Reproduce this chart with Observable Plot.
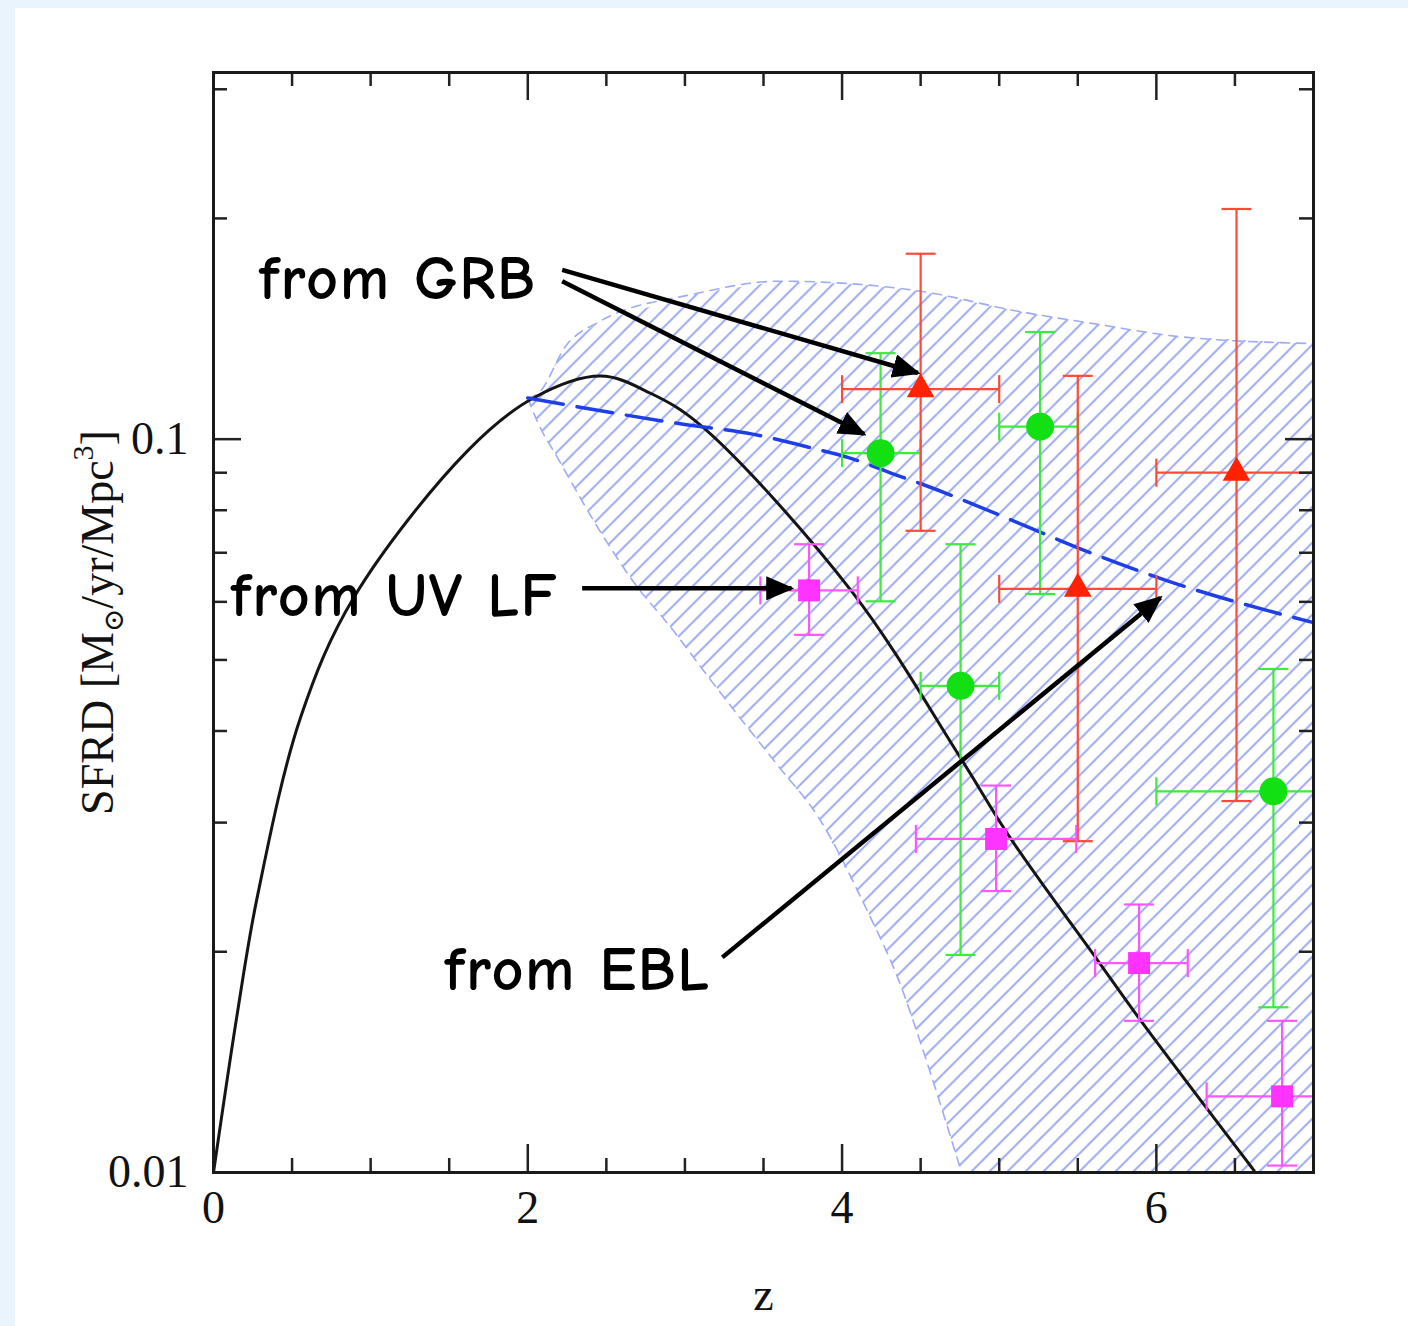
<!DOCTYPE html>
<html><head><meta charset="utf-8">
<script src="https://cdn.jsdelivr.net/npm/d3@7"></script>
<script src="https://cdn.jsdelivr.net/npm/@observablehq/plot@0.6"></script>
<style>
html,body{margin:0;padding:0;}
body{background:#e9f4fd;width:1408px;height:1326px;position:relative;overflow:hidden;}
#panel{position:absolute;left:15px;top:8px;width:1393px;height:1318px;background:#fff;}
#chart{position:absolute;left:0;top:0;}
</style></head><body>
<div id="panel"></div><div id="chart"></div>
<script>
// ---------- data ----------
// model SFRD (solid black curve)
const modelZ    = [0.0, 0.151, 0.278, 0.554, 0.891, 1.615, 2.036, 2.463, 2.781, 3.099, 4.059, 4.754, 5.069, 5.624, 5.902, 6.622];
const modelSfrd = [0.0100, 0.01645, 0.02372, 0.04173, 0.06073, 0.09632, 0.1138, 0.1219, 0.1155, 0.1045, 0.0621, 0.03675, 0.02862, 0.0195, 0.0161, 0.01006];
// from EBL (blue dashed)
const eblZ    = [2.0, 2.99, 3.43, 3.805, 4.046, 4.36, 4.51, 5.12, 5.50, 6.08, 7.0];
const eblSfrd = [0.1138, 0.1048, 0.1016, 0.0973, 0.0943, 0.0891, 0.0868, 0.0769, 0.0711, 0.0640, 0.0562];
// EBL band (hatched)
const bandUpperZ    = [2.0, 2.06, 2.25, 2.46, 3.05, 3.60, 4.11, 4.51, 5.12, 5.63, 6.13, 7.0];
const bandUpperSfrd = [0.1138, 0.1151, 0.1347, 0.1448, 0.1576, 0.1642, 0.1626, 0.1590, 0.1494, 0.1434, 0.1381, 0.1350];
const bandLowerZ    = [2.0, 2.06, 2.19, 2.46, 2.67, 2.93, 3.12, 3.35, 3.60, 3.85, 4.16, 4.36, 4.51, 4.61, 4.76];
const bandLowerSfrd = [0.1138, 0.1058, 0.0943, 0.0749, 0.0640, 0.0547, 0.0483, 0.0417, 0.0357, 0.0305, 0.02275, 0.0183, 0.0148, 0.0127, 0.0100];
const sfrdFloor = 0.01, zMax = 7.0;
// GRB (red triangles)
const grbZ = [4.50, 5.50, 6.51], grbZLo = [4.0, 5.0, 6.0], grbZHi = [5.0, 6.0, 7.0];
const grbSfrd = [0.117, 0.0625, 0.090], grbLo = [0.075, 0.0283, 0.0321], grbHi = [0.179, 0.122, 0.206];
// GRB (green circles)
const grb2Z = [4.245, 5.26, 4.754, 6.745], grb2ZLo = [4.0, 5.0, 4.5, 6.0], grb2ZHi = [4.5, 5.5, 5.0, 7.0];
const grb2Sfrd = [0.0957, 0.104, 0.0461, 0.0331], grb2Lo = [0.0601, 0.0615, 0.0198, 0.0168], grb2Hi = [0.131, 0.140, 0.0719, 0.0486];
// UV LF (magenta squares)
const uvZ = [3.79, 4.98, 5.89, 6.80], uvZLo = [3.48, 4.47, 5.61, 6.32], uvZHi = [4.10, 5.49, 6.20, 7.0];
const uvSfrd = [0.0622, 0.0285, 0.0193, 0.0127], uvLo = [0.0541, 0.0242, 0.0161, 0.01022], uvHi = [0.0719, 0.0337, 0.0232, 0.0161];
// annotations
const annText = ["from GRB", "from UV LF", "from EBL"];
const annZ    = [0.29, 0.11, 1.47];
const annSfrd = [0.1654, 0.0610, 0.01888];
const arrowZ1 = [2.219, 2.219, 2.346, 3.238], arrowS1 = [0.1702, 0.1642, 0.0626, 0.01965];
const arrowZ2 = [4.483, 4.140, 3.678, 6.026], arrowS2 = [0.1231, 0.1016, 0.0626, 0.0608];
// ticks
const xTickLabels = [0, 2, 4, 6];
const xMajorTicks = [2, 4, 6];
const xMinorTicks = [0.5, 1, 1.5, 2.5, 3, 3.5, 4.5, 5, 5.5, 6.5];
const yTickValues = [0.01, 0.1];
const yTickLabels = ["0.01", "0.1"];
const yMajorTicks = [0.1];
const yMinorTicks = [0.02, 0.03, 0.04, 0.05, 0.06, 0.07, 0.08, 0.09, 0.2, 0.3];
const xLabel = "z";
const yLabel = "SFRD [M⊙/yr/Mpc³]";

// ---------- build tables ----------
const pts = (zs, vs) => zs.map((z, i) => ({z, v: vs[i]}));
const model = pts(modelZ, modelSfrd);
const ebl = pts(eblZ, eblSfrd);
const upper = pts(bandUpperZ, bandUpperSfrd);
const lower = pts(bandLowerZ, bandLowerSfrd);
const bandPoly = [...upper, {z: zMax, v: sfrdFloor}, ...lower.slice().reverse()];
const mkSeries = (z, zl, zh, v, lo, hi) => z.map((d, i) => ({z: d, zl: zl[i], zh: zh[i], v: v[i], lo: lo[i], hi: hi[i]}));
const seriesDefs = [
  {rows: mkSeries(grb2Z, grb2ZLo, grb2ZHi, grb2Sfrd, grb2Lo, grb2Hi), bar: "#3bec3b", fill: "#12e012", symbol: "circle", r: 14},
  {rows: mkSeries(grbZ, grbZLo, grbZHi, grbSfrd, grbLo, grbHi), bar: "#ff4a38", fill: "#ff2200", symbol: "triangle", r: 10.3},
  {rows: mkSeries(uvZ, uvZLo, uvZHi, uvSfrd, uvLo, uvHi), bar: "#ff55ff", fill: "#ff33ff", symbol: "square", r: 12.4}
];
const arrows = arrowZ1.map((z, i) => ({z1: z, s1: arrowS1[i], z2: arrowZ2[i], s2: arrowS2[i]}));
const ann = annText.map((t, i) => ({t, z: annZ[i], v: annSfrd[i]}));

const hcap = {draw(ctx, size) { const r = Math.sqrt(size / Math.PI); ctx.moveTo(-r, 0); ctx.lineTo(r, 0); }};
const vcap = {draw(ctx, size) { const r = Math.sqrt(size / Math.PI); ctx.moveTo(0, -r); ctx.lineTo(0, r); }};

const W = 1408, H = 1326, mL = 213, mR = 95, mT = 72, mB = 154;
const fW = W - mL - mR, fH = H - mT - mB;
const MAJ = 28, MIN = 14;

const defsMark = () => {
  const ns = "http://www.w3.org/2000/svg";
  const defs = document.createElementNS(ns, "defs");
  defs.innerHTML = `<pattern id="hatch" patternUnits="userSpaceOnUse" width="18" height="18">
      <path d="M-5,5 L5,-5 M0,18 L18,0 M13,23 L23,13" stroke="#7b8cf2" stroke-width="1.5" fill="none"/></pattern>
    <marker id="ahead" viewBox="0 0 10 10" refX="9" refY="5" markerUnits="userSpaceOnUse" markerWidth="28" markerHeight="24" preserveAspectRatio="none" orient="auto">
      <path d="M0,0L10,5L0,10z" fill="#000"/></marker>`;
  return defs;
};

const marks = [defsMark];
marks.push(Plot.line(bandPoly, {x: "z", y: "v", fill: "url(#hatch)", stroke: "none", curve: "linear", clip: true}));
marks.push(Plot.line(upper, {x: "z", y: "v", stroke: "#9fabf6", strokeWidth: 1.6, strokeDasharray: "9,7", curve: "monotone-x", clip: true}));
marks.push(Plot.line(lower, {x: "z", y: "v", stroke: "#9fabf6", strokeWidth: 1.6, strokeDasharray: "9,7", curve: "monotone-x", clip: true}));
marks.push(Plot.line(model, {x: "z", y: "v", stroke: "#151515", strokeWidth: 3, curve: "catmull-rom", clip: true}));
marks.push(Plot.line(ebl, {x: "z", y: "v", stroke: "#1f3fe6", strokeWidth: 3.5, strokeDasharray: "36,14", curve: "monotone-x", clip: true}));
for (const s of seriesDefs) {
  marks.push(Plot.link(s.rows, {x1: "z", x2: "z", y1: "lo", y2: "hi", stroke: s.bar, strokeWidth: 2.2, clip: true}));
  marks.push(Plot.link(s.rows, {x1: "zl", x2: "zh", y1: "v", y2: "v", stroke: s.bar, strokeWidth: 2.2, clip: true}));
  marks.push(Plot.dot(s.rows, {x: "z", y: "lo", symbol: hcap, r: 15, stroke: s.bar, fill: "none", strokeWidth: 2.2, clip: true}));
  marks.push(Plot.dot(s.rows, {x: "z", y: "hi", symbol: hcap, r: 15, stroke: s.bar, fill: "none", strokeWidth: 2.2, clip: true}));
  marks.push(Plot.dot(s.rows, {x: "zl", y: "v", symbol: vcap, r: 14, stroke: s.bar, fill: "none", strokeWidth: 2.2, clip: true}));
  marks.push(Plot.dot(s.rows, {x: "zh", y: "v", symbol: vcap, r: 14, stroke: s.bar, fill: "none", strokeWidth: 2.2, clip: true}));
}
for (const s of seriesDefs) {
  marks.push(Plot.dot(s.rows, {x: "z", y: "v", symbol: s.symbol, r: s.r, fill: s.fill, stroke: "none"}));
}
marks.push(Plot.link(arrows, {x1: "z1", y1: "s1", x2: "z2", y2: "s2", stroke: "#000", strokeWidth: 4.5, ariaDescription: "arrows"}));
marks.push(Plot.text(ann, {x: "z", y: "v", text: "t", textAnchor: "start", lineAnchor: "middle",
  fontFamily: "'Comic Sans MS', 'Comic Neue', Lato, sans-serif", fontWeight: 700, fontSize: 62, fill: "#000", ariaDescription: "annot"}));
// ticks (inward, all four sides)
const tk = {stroke: "#222", strokeWidth: 2.5};
marks.push(Plot.tickX(xMajorTicks, {x: d => d, insetTop: fH - MAJ, ...tk}));
marks.push(Plot.tickX(xMinorTicks, {x: d => d, insetTop: fH - MIN, ...tk}));
marks.push(Plot.tickX(xMajorTicks, {x: d => d, insetBottom: fH - MAJ, ...tk}));
marks.push(Plot.tickX(xMinorTicks, {x: d => d, insetBottom: fH - MIN, ...tk}));
marks.push(Plot.tickY(yMajorTicks, {y: d => d, insetRight: fW - MAJ, ...tk}));
marks.push(Plot.tickY(yMinorTicks, {y: d => d, insetRight: fW - MIN, ...tk}));
marks.push(Plot.tickY(yMajorTicks, {y: d => d, insetLeft: fW - MAJ, ...tk}));
marks.push(Plot.tickY(yMinorTicks, {y: d => d, insetLeft: fW - MIN, ...tk}));
marks.push(Plot.frame({stroke: "#1a1a1a", strokeWidth: 3}));
marks.push(Plot.axisX(xTickLabels, {anchor: "bottom", tickSize: 0, tickPadding: 18, tickFormat: d => String(d), label: null, fill: "#111"}));
marks.push(Plot.axisY(yTickValues, {anchor: "left", tickSize: 0, tickPadding: 25, tickFormat: d => yTickLabels[yTickValues.indexOf(d)], label: null, fill: "#111"}));
marks.push(Plot.text([xLabel], {frameAnchor: "bottom", dy: 123, lineAnchor: "middle", text: d => d, fill: "#111"}));
marks.push(Plot.text([yLabel], {frameAnchor: "left", dx: -115, rotate: -90, textAnchor: "middle", lineAnchor: "middle", text: d => d, fill: "#111", ariaDescription: "ylabel"}));

const svg = Plot.plot({
  width: W, height: H,
  marginLeft: mL, marginRight: mR, marginTop: mT, marginBottom: mB,
  x: {domain: [0, zMax]},
  y: {type: "log", domain: [sfrdFloor, Math.pow(10, -0.5)]},
  style: {background: "transparent", fontFamily: "'Liberation Serif', 'DejaVu Serif', serif", fontSize: "46px", color: "#111"},
  marks
});

// filled arrowheads on the annotation arrows
let arrowPaths = svg.querySelectorAll('g[aria-description="arrows"] path');
if (!arrowPaths.length) arrowPaths = svg.querySelectorAll('g[stroke-width="4.5"] path');
arrowPaths.forEach(p => p.setAttribute("marker-end", "url(#ahead)"));
// annotation letter spacing
const annG = svg.querySelector('g[aria-description="annot"]');
if (annG) annG.style.letterSpacing = "1.5px";
// y-label sub/superscripts
let yl = svg.querySelector('g[aria-description="ylabel"] text');
if (!yl) yl = [...svg.querySelectorAll("text")].find(t => t.textContent.startsWith("SFRD"));
if (yl) {
  const ns = "http://www.w3.org/2000/svg";
  yl.textContent = "";
  const parts = [["SFRD [M", null, null], ["⊙", 28, 10], ["/yr/Mpc", null, -10], ["3", 30, -20], ["]", null, 20]];
  for (const [t, fs, dy] of parts) {
    const ts = document.createElementNS(ns, "tspan");
    ts.textContent = t;
    if (fs) ts.setAttribute("font-size", fs);
    if (dy) ts.setAttribute("dy", dy);
    yl.appendChild(ts);
  }
}
document.getElementById("chart").appendChild(svg);
</script></body></html>
